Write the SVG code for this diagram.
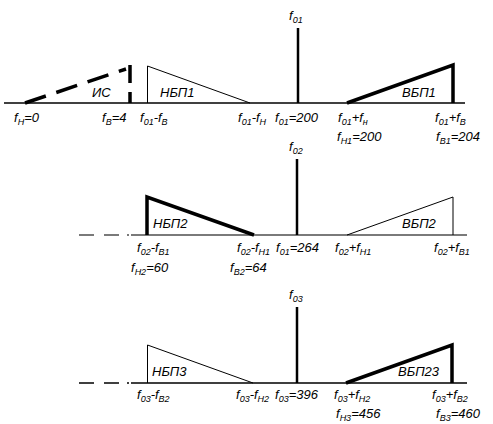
<svg xmlns="http://www.w3.org/2000/svg" width="493" height="424" viewBox="0 0 493 424">
<style>
text{font-family:"Liberation Sans",Arial,sans-serif;font-style:italic;font-size:13px;fill:#000}
.s{font-size:9px}
.ax{stroke:#000;stroke-width:1.5;fill:none}
.axg{stroke:#7a7a7a;stroke-width:1.8;fill:none}
.thin{stroke:#000;stroke-width:1;fill:none}
.thick{stroke:#000;stroke-width:3.5;fill:none;stroke-linejoin:miter}
.spike{stroke:#000;stroke-width:2.5}
.dash{stroke:#000;stroke-width:3.5;fill:none;stroke-dasharray:22 11}
</style>
<rect width="493" height="424" fill="#fff"/>
<g id="connectors">
<line class="ax" x1="4" y1="103" x2="465" y2="103"/>
<path class="axg" d="M79 235H94M104 235H119M127 235H129M131 235H467"/>
<path class="ax" d="M79 383H94M104 383H119M127 383H129M131 383H467"/>
</g>
<g id="row1">
<g id="IS">
<line class="dash" x1="25" y1="103" x2="126" y2="69"/>
<path d="M130 65V83M130 92V103" stroke="#000" stroke-width="3.5"/>
<text x="92" y="97">ИС</text>
</g>
<g id="NBP1">
<path class="thin" d="M147.5 103V66L250 103"/>
<text x="160" y="97">НБП1</text>
</g>
<g id="f01">
<line class="spike" x1="298" y1="28" x2="298" y2="103"/>
<text x="289" y="20">f<tspan class="s" dy="3">01</tspan></text>
</g>
<g id="VBP1">
<path class="thick" d="M347 103L453 65V103"/>
<text x="402" y="97">ВБП1</text>
</g>
<g id="labels1">
<text x="14" y="122">f<tspan class="s" dy="3">Н</tspan><tspan dy="-3">=0</tspan></text>
<text x="102" y="122">f<tspan class="s" dy="3">В</tspan><tspan dy="-3">=4</tspan></text>
<text x="140" y="122">f<tspan class="s" dy="3">01</tspan><tspan dy="-3">-f</tspan><tspan class="s" dy="3">В</tspan></text>
<text x="238" y="122">f<tspan class="s" dy="3">01</tspan><tspan dy="-3">-f</tspan><tspan class="s" dy="3">Н</tspan></text>
<text x="275" y="122">f<tspan class="s" dy="3">01</tspan><tspan dy="-3">=200</tspan></text>
<text x="338" y="122">f<tspan class="s" dy="3">01</tspan><tspan dy="-3">+f</tspan><tspan class="s" dy="3">н</tspan></text>
<text x="435" y="122">f<tspan class="s" dy="3">01</tspan><tspan dy="-3">+f</tspan><tspan class="s" dy="3">В</tspan></text>
<text x="337" y="141">f<tspan class="s" dy="3">Н1</tspan><tspan dy="-3">=200</tspan></text>
<text x="436" y="141">f<tspan class="s" dy="3">В1</tspan><tspan dy="-3">=204</tspan></text>
</g>
</g>
<g id="row2">
<g id="NBP2">
<path class="thick" d="M147 235V197L254 235"/>
<text x="153" y="228">НБП2</text>
</g>
<g id="f02">
<line class="spike" x1="297" y1="159" x2="297" y2="235"/>
<text x="289" y="151">f<tspan class="s" dy="3">02</tspan></text>
</g>
<g id="VBP2">
<path class="thin" d="M347 235L453 197V235"/>
<text x="402" y="228">ВБП2</text>
</g>
<g id="labels2">
<text x="137" y="252">f<tspan class="s" dy="3">02</tspan><tspan dy="-3">-f</tspan><tspan class="s" dy="3">В1</tspan></text>
<text x="237" y="252">f<tspan class="s" dy="3">02</tspan><tspan dy="-3">-f</tspan><tspan class="s" dy="3">Н1</tspan></text>
<text x="276" y="252">f<tspan class="s" dy="3">01</tspan><tspan dy="-3">=264</tspan></text>
<text x="335" y="252">f<tspan class="s" dy="3">02</tspan><tspan dy="-3">+f</tspan><tspan class="s" dy="3">Н1</tspan></text>
<text x="434" y="252">f<tspan class="s" dy="3">02</tspan><tspan dy="-3">+f</tspan><tspan class="s" dy="3">В1</tspan></text>
<text x="131" y="272">f<tspan class="s" dy="3">Н2</tspan><tspan dy="-3">=60</tspan></text>
<text x="230" y="272">f<tspan class="s" dy="3">В2</tspan><tspan dy="-3">=64</tspan></text>
</g>
</g>
<g id="row3">
<g id="NBP3">
<path class="thin" d="M147.5 383V345L253 383"/>
<text x="152" y="376">НБП3</text>
</g>
<g id="f03">
<line class="spike" x1="297" y1="307" x2="297" y2="383"/>
<text x="289" y="299">f<tspan class="s" dy="3">03</tspan></text>
</g>
<g id="VBP23">
<path class="thick" d="M346 383L452 345V383"/>
<text x="398" y="376">ВБП23</text>
</g>
<g id="labels3">
<text x="137" y="399">f<tspan class="s" dy="3">03</tspan><tspan dy="-3">-f</tspan><tspan class="s" dy="3">В2</tspan></text>
<text x="236" y="399">f<tspan class="s" dy="3">03</tspan><tspan dy="-3">-f</tspan><tspan class="s" dy="3">Н2</tspan></text>
<text x="275" y="399">f<tspan class="s" dy="3">03</tspan><tspan dy="-3">=396</tspan></text>
<text x="334" y="399">f<tspan class="s" dy="3">03</tspan><tspan dy="-3">+f</tspan><tspan class="s" dy="3">Н2</tspan></text>
<text x="432" y="399">f<tspan class="s" dy="3">03</tspan><tspan dy="-3">+f</tspan><tspan class="s" dy="3">В2</tspan></text>
<text x="336" y="418">f<tspan class="s" dy="3">Н3</tspan><tspan dy="-3">=456</tspan></text>
<text x="436" y="418">f<tspan class="s" dy="3">В3</tspan><tspan dy="-3">=460</tspan></text>
</g>
</g>
</svg>
